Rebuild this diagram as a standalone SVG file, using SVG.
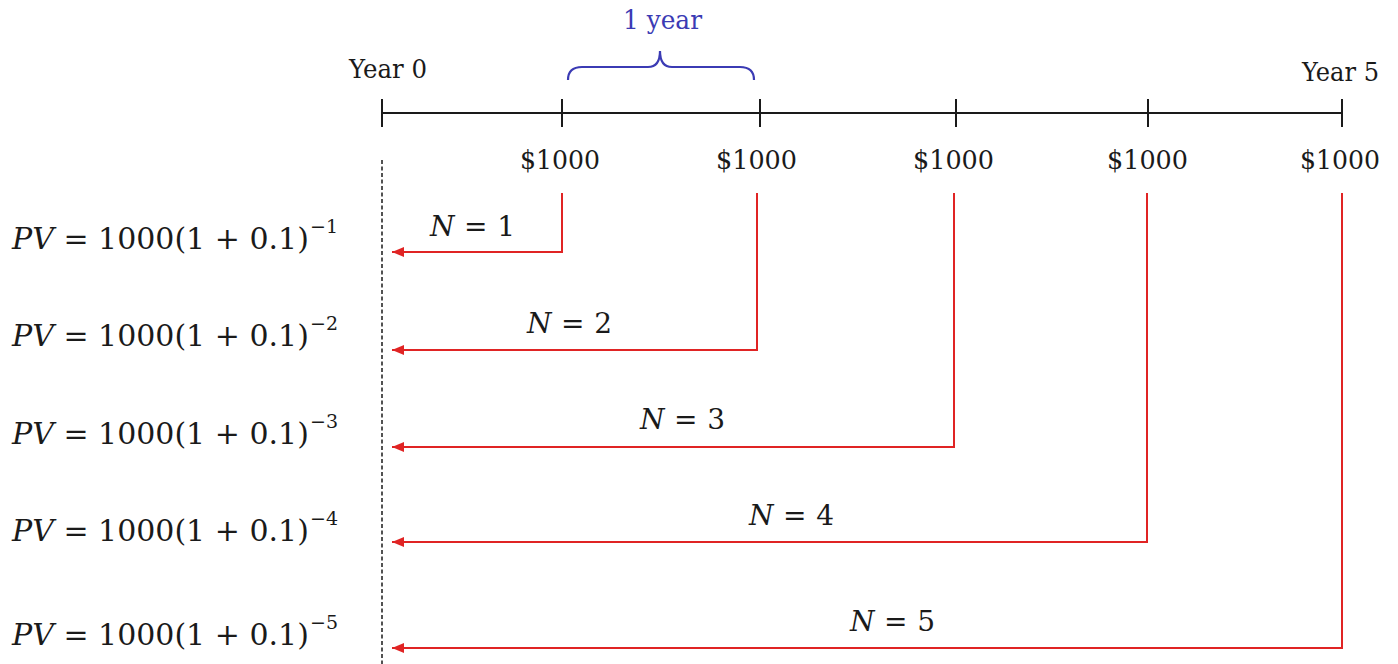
<svg xmlns="http://www.w3.org/2000/svg" width="1398" height="664" viewBox="0 0 1398 664">
<style>
.t{font-family:"DejaVu Serif","Liberation Serif",serif;fill:#1a1a1a}
.lbl{font-size:26px}
.f{font-size:30px}
.sup{font-size:19px}
.n{font-size:28px}
.it{font-style:italic}
.axis{stroke:#1a1a1a;stroke-width:2;fill:none}
.red{stroke:#e02424;stroke-width:2;fill:none}
.blue{fill:#3b3bb4}
</style>
<defs>
<marker id="ah" markerUnits="userSpaceOnUse" markerWidth="14" markerHeight="12" refX="12" refY="5" orient="auto">
<path d="M0,0 L12,5 L0,10 z" fill="#e02424"/>
</marker>
</defs>
<g id="timeline">
<line class="axis" x1="382" y1="113" x2="1342" y2="113"/>
<line class="axis" x1="382" y1="99" x2="382" y2="127"/>
<line class="axis" x1="562" y1="99" x2="562" y2="127"/>
<line class="axis" x1="760" y1="99" x2="760" y2="127"/>
<line class="axis" x1="956" y1="99" x2="956" y2="127"/>
<line class="axis" x1="1148" y1="99" x2="1148" y2="127"/>
<line class="axis" x1="1342" y1="99" x2="1342" y2="127"/>
<text class="t lbl" x="349" y="78" textLength="78" lengthAdjust="spacingAndGlyphs">Year 0</text>
<text class="t lbl" x="1302" y="81" textLength="77" lengthAdjust="spacingAndGlyphs">Year 5</text>
</g>
<g id="brace">
<path d="M568,80 Q568,67 582,67 L648,67 Q660,67 660,51 Q660,67 672,67 L740,67 Q754,67 754,80" fill="none" stroke="#3b3bb4" stroke-width="2.2"/>
<text class="t blue" x="623" y="29" font-size="26" textLength="79" lengthAdjust="spacingAndGlyphs">1 year</text>
</g>
<g id="amounts">
<text class="t lbl" x="520" y="169" textLength="80" lengthAdjust="spacingAndGlyphs">$1000</text>
<text class="t lbl" x="716" y="169" textLength="81" lengthAdjust="spacingAndGlyphs">$1000</text>
<text class="t lbl" x="913" y="169" textLength="81" lengthAdjust="spacingAndGlyphs">$1000</text>
<text class="t lbl" x="1107" y="169" textLength="81" lengthAdjust="spacingAndGlyphs">$1000</text>
<text class="t lbl" x="1300" y="169" textLength="80" lengthAdjust="spacingAndGlyphs">$1000</text>
</g>
<g id="year0-line">
<line x1="382" y1="160" x2="382" y2="664" stroke="#1a1a1a" stroke-width="1.5" stroke-dasharray="4,2.5"/>
</g>
<g id="connectors">
<path class="red" d="M562,193 V252 H392" marker-end="url(#ah)"/>
<path class="red" d="M757,193 V350 H392" marker-end="url(#ah)"/>
<path class="red" d="M954,193 V447 H392" marker-end="url(#ah)"/>
<path class="red" d="M1147,193 V542 H392" marker-end="url(#ah)"/>
<path class="red" d="M1342,193 V648 H392" marker-end="url(#ah)"/>
</g>
<g id="n-labels">
<text class="t n" x="430" y="236" textLength="85" lengthAdjust="spacing"><tspan class="it">N</tspan>  = 1</text>
<text class="t n" x="527" y="333" textLength="85" lengthAdjust="spacing"><tspan class="it">N</tspan>  = 2</text>
<text class="t n" x="640" y="429" textLength="85" lengthAdjust="spacing"><tspan class="it">N</tspan>  = 3</text>
<text class="t n" x="749" y="525" textLength="85" lengthAdjust="spacing"><tspan class="it">N</tspan>  = 4</text>
<text class="t n" x="850" y="631" textLength="85" lengthAdjust="spacing"><tspan class="it">N</tspan>  = 5</text>
</g>
<g id="pv1">
<text class="t f" x="12" y="249"><tspan class="it">PV</tspan> = 1000(1 + 0.1)</text>
<text class="t sup" x="310" y="233">−1</text>
</g>
<g id="pv2">
<text class="t f" x="12" y="346"><tspan class="it">PV</tspan> = 1000(1 + 0.1)</text>
<text class="t sup" x="310" y="330">−2</text>
</g>
<g id="pv3">
<text class="t f" x="12" y="444"><tspan class="it">PV</tspan> = 1000(1 + 0.1)</text>
<text class="t sup" x="310" y="428">−3</text>
</g>
<g id="pv4">
<text class="t f" x="12" y="541"><tspan class="it">PV</tspan> = 1000(1 + 0.1)</text>
<text class="t sup" x="310" y="525">−4</text>
</g>
<g id="pv5">
<text class="t f" x="12" y="645"><tspan class="it">PV</tspan> = 1000(1 + 0.1)</text>
<text class="t sup" x="310" y="629">−5</text>
</g>
</svg>
